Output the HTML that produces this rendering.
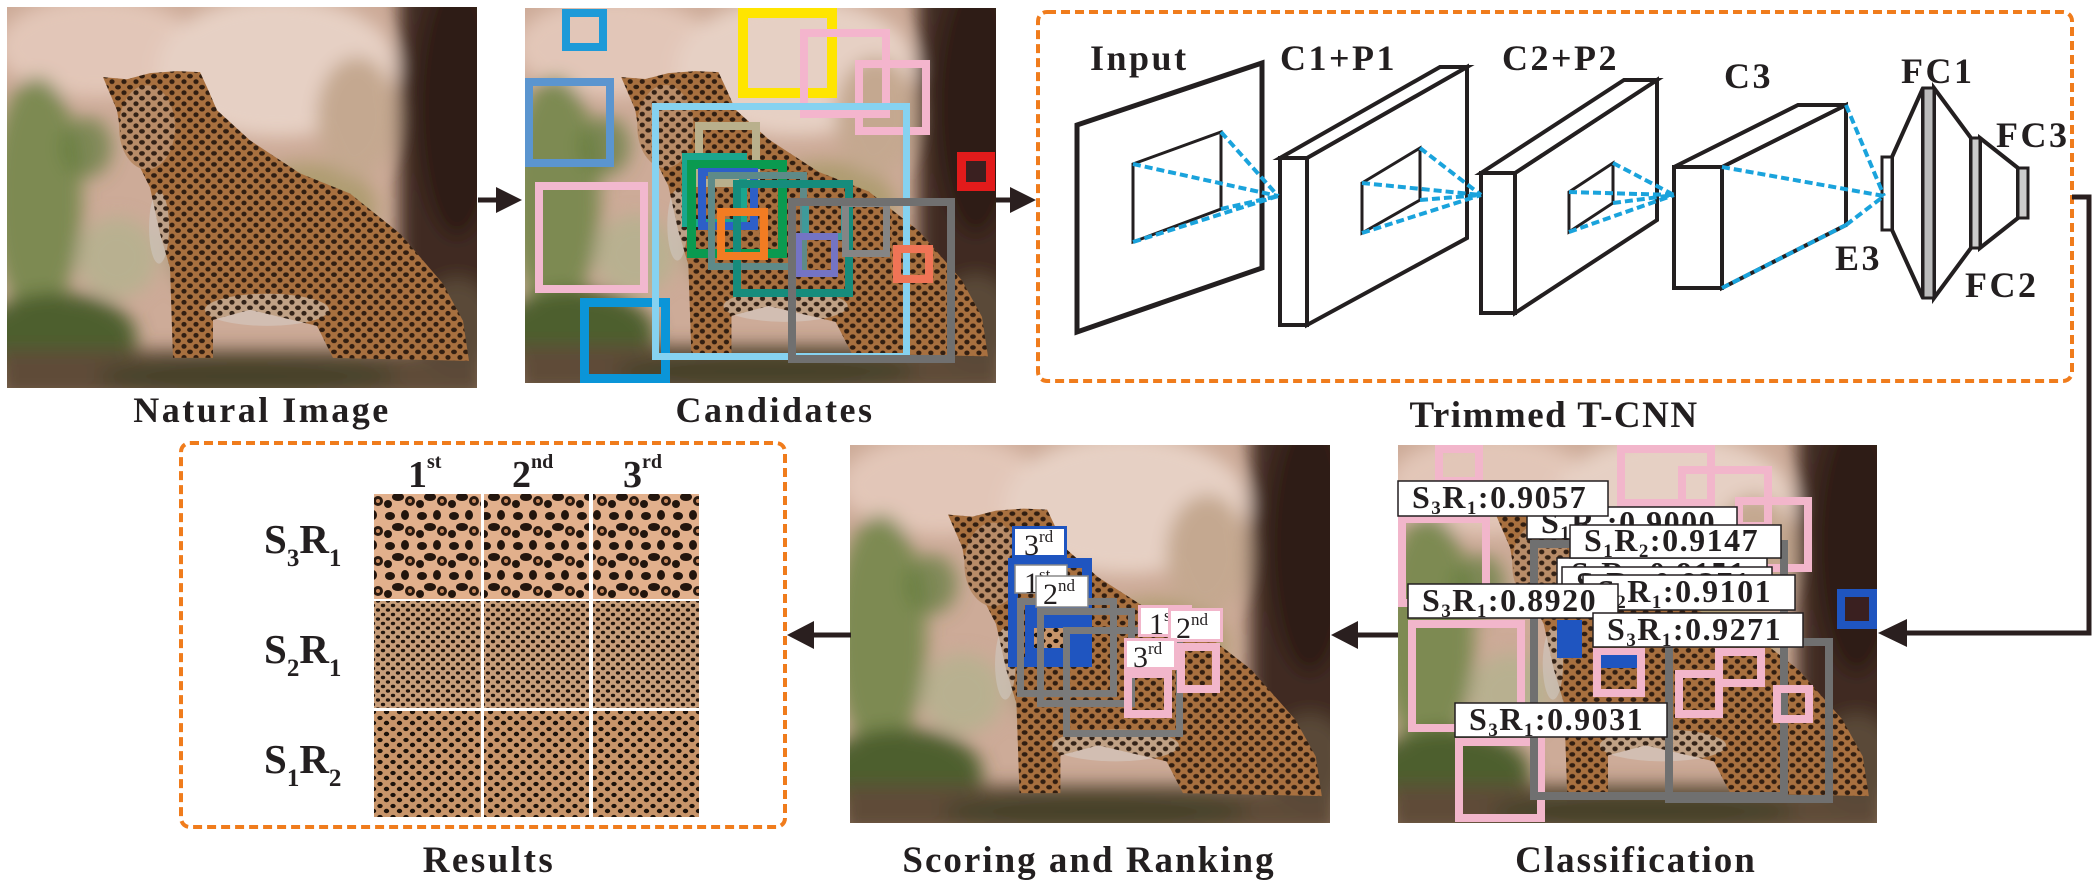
<!DOCTYPE html>
<html><head><meta charset="utf-8"><style>
html,body{margin:0;padding:0;background:#fff;}
svg{display:block;}
text{font-family:"Liberation Serif","DejaVu Serif",serif;fill:#231f20;}
</style></head><body>
<svg width="2100" height="880" viewBox="0 0 2100 880" xmlns="http://www.w3.org/2000/svg">
<defs>
<filter id="bl" x="-20%" y="-20%" width="140%" height="140%"><feGaussianBlur stdDeviation="9"/></filter>
<pattern id="sp" width="12" height="11" patternUnits="userSpaceOnUse">
<ellipse cx="3" cy="3" rx="2.9" ry="2.3" fill="#24150c"/><ellipse cx="9" cy="8.5" rx="2.6" ry="2.4" fill="#24150c"/></pattern>
<pattern id="fur1" width="32" height="30" patternUnits="userSpaceOnUse">
<rect width="32" height="30" fill="#e2b08c"/>
<ellipse cx="6" cy="6" rx="5" ry="4" fill="#22150d"/><ellipse cx="21" cy="5" rx="4" ry="5" fill="#22150d"/>
<ellipse cx="14" cy="17" rx="6" ry="4" fill="#24160e"/><ellipse cx="4" cy="24" rx="4" ry="4" fill="#22150d"/>
<ellipse cx="26" cy="21" rx="5" ry="5" fill="#2a1a10"/><ellipse cx="26" cy="21" rx="2" ry="2" fill="#c98a5e"/></pattern>
<pattern id="fur2" width="10" height="9" patternUnits="userSpaceOnUse">
<rect width="10" height="9" fill="#c89e7a"/>
<ellipse cx="3" cy="2.5" rx="2.2" ry="1.7" fill="#22160e"/><ellipse cx="8" cy="7" rx="2.2" ry="1.7" fill="#22160e"/></pattern>
<pattern id="fur3" width="13" height="11" patternUnits="userSpaceOnUse">
<rect width="13" height="11" fill="#c8956a"/>
<ellipse cx="3" cy="3" rx="2.7" ry="2.1" fill="#1c120a"/><ellipse cx="9.5" cy="8" rx="2.7" ry="2.2" fill="#1c120a"/></pattern>
<symbol id="leo" viewBox="0 0 470 380" preserveAspectRatio="none">
<rect width="470" height="380" fill="#cdab98"/>
<g filter="url(#bl)">
<ellipse cx="90" cy="40" rx="100" ry="50" fill="#e2c6b8"/>
<ellipse cx="270" cy="60" rx="120" ry="70" fill="#e6d0c4"/>
<ellipse cx="30" cy="190" rx="45" ry="120" fill="#6e8444" opacity=".85"/>
<ellipse cx="80" cy="140" rx="25" ry="30" fill="#5e7a3a" opacity=".7"/>
<ellipse cx="110" cy="250" rx="40" ry="40" fill="#b8b090"/>
<ellipse cx="300" cy="200" rx="70" ry="45" fill="#a89868" opacity=".8"/>
<ellipse cx="350" cy="110" rx="40" ry="60" fill="#c4a890"/>
<ellipse cx="50" cy="330" rx="80" ry="45" fill="#4e5e2e"/>
<ellipse cx="360" cy="280" rx="45" ry="40" fill="#cdb3a3"/>
<ellipse cx="200" cy="240" rx="40" ry="50" fill="#a8987a"/>
<rect x="392" y="-20" width="100" height="320" fill="#3f2a20"/>
<ellipse cx="450" cy="100" rx="40" ry="130" fill="#2e1c14"/>
<rect x="-10" y="342" width="490" height="50" fill="#5e4c38"/>
<ellipse cx="240" cy="368" rx="150" ry="18" fill="#46422a"/>
<ellipse cx="450" cy="320" rx="40" ry="50" fill="#5a4a38"/>
</g>
<path d="M96,70 L120,72 143,66 170,64 193,65 200,80 210,103 243,133 293,166 343,186 393,226 436,276 456,313 462,353 326,350 310,318 243,302 206,312 206,350 166,350 163,260 153,226 143,180 133,160 116,140 110,103 Z" fill="#a8703f"/>
<ellipse cx="140" cy="120" rx="28" ry="42" fill="#b88c68"/>
<ellipse cx="260" cy="302" rx="62" ry="16" fill="#d8d2cc" opacity=".5"/>
<ellipse cx="152" cy="220" rx="10" ry="36" fill="#d0cac4" opacity=".55"/>
<path d="M96,70 L120,72 143,66 170,64 193,65 200,80 210,103 243,133 293,166 343,186 393,226 436,276 456,313 462,353 326,350 310,318 243,302 206,312 206,350 166,350 163,260 153,226 143,180 133,160 116,140 110,103 Z" fill="url(#sp)" opacity=".9"/>
</symbol>
</defs>

<!-- ===== TOP ROW ===== -->
<use href="#leo" x="7" y="7" width="470" height="381"/>
<text x="262" y="422" font-size="36" font-weight="bold" text-anchor="middle" letter-spacing="2.5">Natural Image</text>

<line x1="478" y1="200" x2="500" y2="200" stroke="#2a1f1f" stroke-width="5"/>
<polygon points="522,200 496,187 496,213" fill="#2a1f1f"/>

<use href="#leo" x="525" y="8" width="471" height="375"/>
<g fill="none">
<rect x="566" y="13" width="37" height="34" stroke="#1d9ad8" stroke-width="8"/>
<rect x="529" y="82" width="81" height="81" stroke="#5b95cf" stroke-width="8"/>
<rect x="539" y="186" width="105" height="103" stroke="#f2b8cf" stroke-width="8"/>
<rect x="584.5" y="302.5" width="81" height="76" stroke="#0b95d8" stroke-width="9"/>
<rect x="743" y="13" width="89" height="80" stroke="#ffe500" stroke-width="10"/>
<rect x="804" y="33" width="82" height="81" stroke="#f4b5cd" stroke-width="8"/>
<rect x="859" y="64" width="67" height="67" stroke="#f4b5cd" stroke-width="8"/>
<rect x="655.5" y="106.5" width="251" height="250" stroke="#86d2f0" stroke-width="7"/>
<rect x="699" y="126" width="57" height="57" stroke="#b9b08c" stroke-width="8"/>
<rect x="686" y="157" width="57" height="66" stroke="#1aa68e" stroke-width="8"/>
<rect x="691.5" y="164.5" width="91" height="89" stroke="#0a9a50" stroke-width="9"/>
<rect x="702" y="172" width="52" height="54" stroke="#2d5fc8" stroke-width="8"/>
<rect x="711.5" y="175.5" width="92" height="91" stroke="#5e8a88" stroke-width="7"/>
<rect x="737" y="184" width="112" height="109" stroke="#168c7c" stroke-width="8"/>
<rect x="721" y="212" width="43" height="44" stroke="#f27c22" stroke-width="8"/>
<rect x="805.5" y="201.5" width="39" height="35" stroke="#3f9a9a" stroke-width="7"/>
<rect x="798.5" y="236.5" width="36" height="37" stroke="#7474c4" stroke-width="7"/>
<rect x="845.5" y="203.5" width="41" height="50" stroke="#858585" stroke-width="7"/>
<rect x="792" y="202" width="159" height="157" stroke="#707070" stroke-width="8"/>
<rect x="897" y="249" width="32" height="30" stroke="#f07456" stroke-width="8"/>
<rect x="961.5" y="156.5" width="29" height="30" stroke="#e21b1b" stroke-width="9" fill="#3a2020"/>
</g>
<text x="775" y="422" font-size="36" font-weight="bold" text-anchor="middle" letter-spacing="2.5">Candidates</text>

<line x1="996" y1="200" x2="1014" y2="200" stroke="#2a1f1f" stroke-width="5"/>
<polygon points="1036,200 1010,187 1010,213" fill="#2a1f1f"/>

<rect x="1038" y="12" width="1034" height="369" rx="9" fill="none" stroke="#f07c1c" stroke-width="4" stroke-dasharray="9 5"/>

<g stroke="#231f20" stroke-linejoin="miter" fill="#fff">
<polygon points="1077,125 1262,63 1262,268 1077,332" stroke-width="5"/>
<polygon points="1133,164 1221,132 1221,209 1133,242" stroke-width="3"/>
<polygon points="1307,158 1467,67 1467,238 1307,325" stroke-width="4"/>
<polygon points="1280,158 1440,67 1467,67 1307,158" stroke-width="4"/>
<rect x="1280" y="158" width="27" height="167" stroke-width="4"/>
<polygon points="1362,183 1420,148 1420,200 1362,233" stroke-width="3"/>
<polygon points="1515,173 1657,80 1657,220 1515,313" stroke-width="4"/>
<polygon points="1481,173 1624,80 1657,80 1515,173" stroke-width="4"/>
<rect x="1481" y="173" width="34" height="140" stroke-width="4"/>
<polygon points="1569,192 1613,163 1613,203 1569,232" stroke-width="3"/>
<polygon points="1722,167 1846,105 1846,225 1722,288" stroke-width="4"/>
<polygon points="1674,167 1798,105 1846,105 1722,167" stroke-width="4"/>
<rect x="1674" y="167" width="48" height="121" stroke-width="4"/>
<polygon points="1892,157 1923,88 1923,298 1892,230" stroke-width="4"/>
<polygon points="1934,88 1971,138 1971,248 1934,298" stroke-width="4"/>
<polygon points="1980,138 2018,168 2018,218 1980,248" stroke-width="4"/>
<rect x="1882" y="157" width="10" height="73" stroke-width="3"/>
<rect x="1923" y="88" width="11" height="210" stroke-width="3" fill="#bbb"/>
<rect x="1971" y="138" width="9" height="110" stroke-width="3" fill="#ccc"/>
<rect x="2018" y="168" width="10" height="50" stroke-width="3" fill="#ccc"/>
</g>
<g stroke="#1aa3dc" stroke-width="4" stroke-dasharray="8 4" fill="none">
<path d="M1133,164 L1278,196 M1221,132 L1278,196 M1221,209 L1278,196 M1133,242 L1278,196"/>
<path d="M1362,183 L1481,195 M1420,148 L1481,195 M1420,200 L1481,195 M1362,233 L1481,195"/>
<path d="M1569,192 L1674,195 M1613,163 L1674,195 M1613,203 L1674,195 M1569,232 L1674,195"/>
<path d="M1722,167 L1884,196 M1846,105 L1884,196 M1846,225 L1884,196 M1722,288 L1846,225"/>
</g>
<g font-size="36" font-weight="bold" letter-spacing="2.5">
<text x="1090" y="70">Input</text>
<text x="1280" y="70">C1+P1</text>
<text x="1502" y="70">C2+P2</text>
<text x="1724" y="88">C3</text>
<text x="1901" y="83">FC1</text>
<text x="1996" y="147">FC3</text>
<text x="1965" y="297">FC2</text>
<text x="1835" y="270">E3</text>
</g>
<text x="1554" y="427" font-size="37" font-weight="bold" text-anchor="middle" letter-spacing="1.5">Trimmed T-CNN</text>

<polyline points="2072,197 2089,197 2089,633 1905,633" fill="none" stroke="#2a1f1f" stroke-width="5"/>
<polygon points="1878,633 1907,619 1907,647" fill="#2a1f1f"/>

<!-- ===== BOTTOM ROW ===== -->
<use href="#leo" x="1398" y="445" width="479" height="378"/>
<g fill="none" stroke="#f2b6cb" stroke-width="8">
<rect x="1439" y="449" width="40" height="32"/>
<rect x="1621" y="449" width="90" height="54"/>
<rect x="1682" y="470" width="86" height="56"/>
<rect x="1739" y="501" width="69" height="67"/>
<rect x="1402" y="519" width="84" height="84"/>
<rect x="1412" y="624" width="109" height="104"/>
<rect x="1459" y="742" width="82" height="76"/>
</g>
<g fill="none" stroke="#707070" stroke-width="8">
<rect x="1534" y="544" width="250" height="252"/>
<rect x="1669" y="642" width="160" height="157"/>
</g>
<rect x="1557" y="620" width="25" height="38" fill="#1f55c0"/>
<g fill="none" stroke="#f2b6cb" stroke-width="8">
<rect x="1597" y="652" width="44" height="41"/>
<rect x="1679" y="674" width="40" height="40"/>
<rect x="1719" y="652" width="42" height="31"/>
<rect x="1777" y="689" width="32" height="30"/>
</g>
<rect x="1601" y="655" width="36" height="13" fill="#1f55c0"/>
<rect x="1841" y="593" width="32" height="32" fill="#3a2020" stroke="#1f55c0" stroke-width="8"/>
<g font-size="32" font-weight="bold" letter-spacing="1.5">
<rect x="1527" y="507" width="210" height="32" fill="#fff" stroke="#231f20" stroke-width="1.5"/>
<text x="1541" y="533">S<tspan font-size="19" dy="6">1</tspan><tspan dy="-6">R</tspan><tspan font-size="19" dy="6">1</tspan><tspan dy="-6">:0.9000</tspan></text>
<rect x="1398" y="481" width="210" height="35" fill="#fff" stroke="#231f20" stroke-width="1.5"/>
<text x="1412" y="508">S<tspan font-size="19" dy="6">3</tspan><tspan dy="-6">R</tspan><tspan font-size="19" dy="6">1</tspan><tspan dy="-6">:0.9057</tspan></text>
<rect x="1557" y="558" width="210" height="30" fill="#fff" stroke="#231f20" stroke-width="1.5"/>
<text x="1571" y="584">S<tspan font-size="19" dy="6">1</tspan><tspan dy="-6">R</tspan><tspan font-size="19" dy="6">1</tspan><tspan dy="-6">:0.9151</tspan></text>
<rect x="1562" y="567" width="210" height="32" fill="#fff" stroke="#231f20" stroke-width="1.5"/>
<text x="1576" y="594">S<tspan font-size="19" dy="6">2</tspan><tspan dy="-6">R</tspan><tspan font-size="19" dy="6">1</tspan><tspan dy="-6">:0.9271</tspan></text>
<rect x="1570" y="525" width="211" height="33" fill="#fff" stroke="#231f20" stroke-width="1.5"/>
<text x="1584" y="551">S<tspan font-size="19" dy="6">1</tspan><tspan dy="-6">R</tspan><tspan font-size="19" dy="6">2</tspan><tspan dy="-6">:0.9147</tspan></text>
<rect x="1583" y="575" width="212" height="35" fill="#fff" stroke="#231f20" stroke-width="1.5"/>
<text x="1597" y="602">S<tspan font-size="19" dy="6">2</tspan><tspan dy="-6">R</tspan><tspan font-size="19" dy="6">1</tspan><tspan dy="-6">:0.9101</tspan></text>
<rect x="1408" y="584" width="210" height="34" fill="#fff" stroke="#231f20" stroke-width="1.5"/>
<text x="1422" y="611">S<tspan font-size="19" dy="6">3</tspan><tspan dy="-6">R</tspan><tspan font-size="19" dy="6">1</tspan><tspan dy="-6">:0.8920</tspan></text>
<rect x="1593" y="613" width="210" height="34" fill="#fff" stroke="#231f20" stroke-width="1.5"/>
<text x="1607" y="640">S<tspan font-size="19" dy="6">3</tspan><tspan dy="-6">R</tspan><tspan font-size="19" dy="6">1</tspan><tspan dy="-6">:0.9271</tspan></text>
<rect x="1455" y="703" width="212" height="34" fill="#fff" stroke="#231f20" stroke-width="1.5"/>
<text x="1469" y="730">S<tspan font-size="19" dy="6">3</tspan><tspan dy="-6">R</tspan><tspan font-size="19" dy="6">1</tspan><tspan dy="-6">:0.9031</tspan></text>
</g>
<text x="1636" y="872" font-size="37" font-weight="bold" text-anchor="middle" letter-spacing="2">Classification</text>

<line x1="1398" y1="635" x2="1355" y2="635" stroke="#2a1f1f" stroke-width="5"/>
<polygon points="1331,635 1358,621 1358,649" fill="#2a1f1f"/>

<use href="#leo" x="850" y="445" width="480" height="378"/>
<rect x="1013" y="563" width="74" height="99" fill="none" stroke="#1f55c0" stroke-width="10"/>
<rect x="1025" y="603" width="65" height="64" fill="#1f55c0"/>
<rect x="1034" y="628" width="36" height="20" fill="url(#fur3)"/>
<g fill="none" stroke="#7a7a7a" stroke-width="7">
<rect x="1020.5" y="601.5" width="93" height="92"/>
<rect x="1040.5" y="611.5" width="91" height="92"/>
<rect x="1066.5" y="630.5" width="113" height="103"/>
</g>
<g fill="none" stroke="#f2b6cb" stroke-width="8">
<rect x="1128" y="674" width="40" height="40"/>
<rect x="1181" y="647" width="35" height="42"/>
</g>
<g font-size="30">
<rect x="1013.5" y="527.5" width="52" height="29" fill="#fff" stroke="#1f55c0" stroke-width="3"/>
<text x="1024" y="555">3<tspan font-size="17" dy="-13">rd</tspan></text>
<rect x="1015" y="565" width="52" height="28" fill="#fff" stroke="#888" stroke-width="1.5"/>
<text x="1024" y="593">1<tspan font-size="17" dy="-13">st</tspan></text>
<rect x="1036" y="576" width="52" height="31" fill="#fff" stroke="#888" stroke-width="1.5"/>
<text x="1043" y="604">2<tspan font-size="17" dy="-13">nd</tspan></text>
<rect x="1139.5" y="606.5" width="51" height="29" fill="#fff" stroke="#f2b6cb" stroke-width="3"/>
<text x="1149" y="634">1<tspan font-size="17" dy="-13">st</tspan></text>
<rect x="1169.5" y="609.5" width="52" height="31" fill="#fff" stroke="#f2b6cb" stroke-width="3"/>
<text x="1176" y="638">2<tspan font-size="17" dy="-13">nd</tspan></text>
<rect x="1125.5" y="639.5" width="50" height="29" fill="#fff" stroke="#f2b6cb" stroke-width="3"/>
<text x="1133" y="667">3<tspan font-size="17" dy="-13">rd</tspan></text>
</g>
<text x="1089" y="872" font-size="37" font-weight="bold" text-anchor="middle" letter-spacing="2">Scoring and Ranking</text>

<line x1="851" y1="635" x2="810" y2="635" stroke="#2a1f1f" stroke-width="5"/>
<polygon points="787,635 814,621 814,649" fill="#2a1f1f"/>

<rect x="181" y="443" width="604" height="384" rx="9" fill="none" stroke="#f07c1c" stroke-width="4" stroke-dasharray="9 5"/>
<g>
<rect x="374" y="494" width="107" height="105" fill="url(#fur1)"/>
<rect x="484" y="494" width="105" height="105" fill="url(#fur1)"/>
<rect x="593" y="494" width="106" height="105" fill="url(#fur1)"/>
<rect x="374" y="601" width="107" height="107" fill="url(#fur2)"/>
<rect x="484" y="601" width="105" height="107" fill="url(#fur2)"/>
<rect x="593" y="601" width="106" height="107" fill="url(#fur2)"/>
<rect x="374" y="711" width="107" height="106" fill="url(#fur3)"/>
<rect x="484" y="711" width="105" height="106" fill="url(#fur3)"/>
<rect x="593" y="711" width="106" height="106" fill="url(#fur3)"/>
</g>
<g font-size="38" font-weight="bold">
<text x="408" y="487">1<tspan font-size="20" dy="-19">st</tspan></text>
<text x="512" y="487">2<tspan font-size="20" dy="-19">nd</tspan></text>
<text x="623" y="487">3<tspan font-size="20" dy="-19">rd</tspan></text>
</g>
<g font-size="41" font-weight="bold">
<text x="264" y="553">S<tspan font-size="25" dy="13">3</tspan><tspan dy="-13">R</tspan><tspan font-size="25" dy="13">1</tspan></text>
<text x="264" y="663">S<tspan font-size="25" dy="13">2</tspan><tspan dy="-13">R</tspan><tspan font-size="25" dy="13">1</tspan></text>
<text x="264" y="773">S<tspan font-size="25" dy="13">1</tspan><tspan dy="-13">R</tspan><tspan font-size="25" dy="13">2</tspan></text>
</g>
<text x="489" y="872" font-size="37" font-weight="bold" text-anchor="middle" letter-spacing="2.5">Results</text>
</svg>
</body></html>
